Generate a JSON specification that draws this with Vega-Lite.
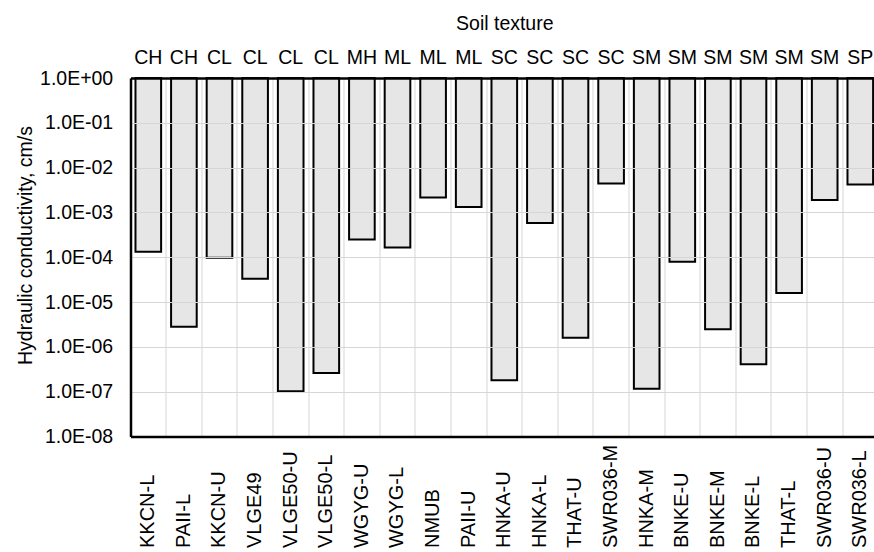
{
  "$schema": "https://vega.github.io/schema/vega-lite/v6.json",
  "width": 747.6,
  "height": 358.5,
  "autosize": {"type": "none"},
  "padding": {"left": 130.5, "top": 78, "right": 0, "bottom": 115.5},
  "background": "white",
  "datasets": {
    "soil": [
      {"sample": "KKCN-L", "texture": "CH", "k": 1.33e-4},
      {"sample": "PAII-L", "texture": "CH", "k": 2.8e-6},
      {"sample": "KKCN-U", "texture": "CL", "k": 9.7e-5},
      {"sample": "VLGE49", "texture": "CL", "k": 3.3e-5},
      {"sample": "VLGE50-U", "texture": "CL", "k": 1.02e-7},
      {"sample": "VLGE50-L", "texture": "CL", "k": 2.6e-7},
      {"sample": "WGYG-U", "texture": "MH", "k": 2.5e-4},
      {"sample": "WGYG-L", "texture": "ML", "k": 1.65e-4},
      {"sample": "NMUB", "texture": "ML", "k": 2.15e-3},
      {"sample": "PAII-U", "texture": "ML", "k": 1.33e-3},
      {"sample": "HNKA-U", "texture": "SC", "k": 1.8e-7},
      {"sample": "HNKA-L", "texture": "SC", "k": 5.8e-4},
      {"sample": "THAT-U", "texture": "SC", "k": 1.6e-6},
      {"sample": "SWR036-M", "texture": "SC", "k": 4.4e-3},
      {"sample": "HNKA-M", "texture": "SM", "k": 1.17e-7},
      {"sample": "BNKE-U", "texture": "SM", "k": 7.9e-5},
      {"sample": "BNKE-M", "texture": "SM", "k": 2.46e-6},
      {"sample": "BNKE-L", "texture": "SM", "k": 4.1e-7},
      {"sample": "THAT-L", "texture": "SM", "k": 1.6e-5},
      {"sample": "SWR036-U", "texture": "SM", "k": 1.9e-3},
      {"sample": "SWR036-L", "texture": "SP", "k": 4.2e-3}
    ]
  },
  "data": {"name": "soil"},
  "config": {
    "view": {"stroke": null},
    "font": "Liberation Sans",
    "axis": {
      "labelFont": "Liberation Sans",
      "titleFont": "Liberation Sans",
      "labelColor": "black",
      "titleColor": "black",
      "labelFontSize": 19.5,
      "titleFontSize": 19.5,
      "titleFontWeight": "normal",
      "ticks": false,
      "domainColor": "black",
      "gridColor": "#d6d6d6",
      "gridWidth": 1
    }
  },
  "resolve": {"axis": {"x": "independent"}},
  "layer": [
    {
      "mark": {"type": "bar", "fill": "#e6e6e6", "stroke": "black", "strokeWidth": 2, "width": {"band": 0.72}},
      "encoding": {
        "x": {
          "field": "sample",
          "type": "nominal",
          "sort": null,
          "scale": {"paddingInner": 0, "paddingOuter": 0},
          "axis": {
            "orient": "bottom",
            "title": null,
            "labelAngle": -90,
            "labelAlign": "left",
            "labelBaseline": "middle",
            "labelPadding": 111,
            "labelFontSize": 20,
            "labelOverlap": false,
            "labelBound": false,
            "domainWidth": 2.5,
            "grid": true,
            "bandPosition": 0,
            "zindex": 1
          }
        },
        "y": {
          "field": "k",
          "type": "quantitative",
          "scale": {"type": "log", "domain": [1e-8, 1]},
          "axis": {
            "title": "Hydraulic conductivity, cm/s",
            "values": [1, 0.1, 0.01, 0.001, 0.0001, 0.00001, 0.000001, 0.0000001, 0.00000001],
            "labelExpr": "datum.value >= 1 ? '1.0E+00' : '1.0E-0' + round(-log(datum.value)/LN10)",
            "labelPadding": 17.8,
            "titlePadding": 4,
            "titleY": 167,
            "domainWidth": 2.5,
            "grid": true,
            "zindex": 1
          }
        },
        "y2": {"datum": 1}
      }
    },
    {
      "mark": {"type": "bar", "opacity": 0, "width": {"band": 0.72}},
      "encoding": {
        "x": {
          "field": "sample",
          "type": "nominal",
          "sort": null,
          "axis": {
            "orient": "top",
            "title": "Soil texture",
            "labelAngle": 0,
            "labelExpr": "data('soil')[indexof(domain('x'), datum.value)].texture",
            "labelPadding": 11,
            "titlePadding": 14,
            "labelOverlap": false,
            "labelBound": false,
            "domainWidth": 2.5,
            "grid": false,
            "zindex": 1
          }
        }
      }
    }
  ]
}
